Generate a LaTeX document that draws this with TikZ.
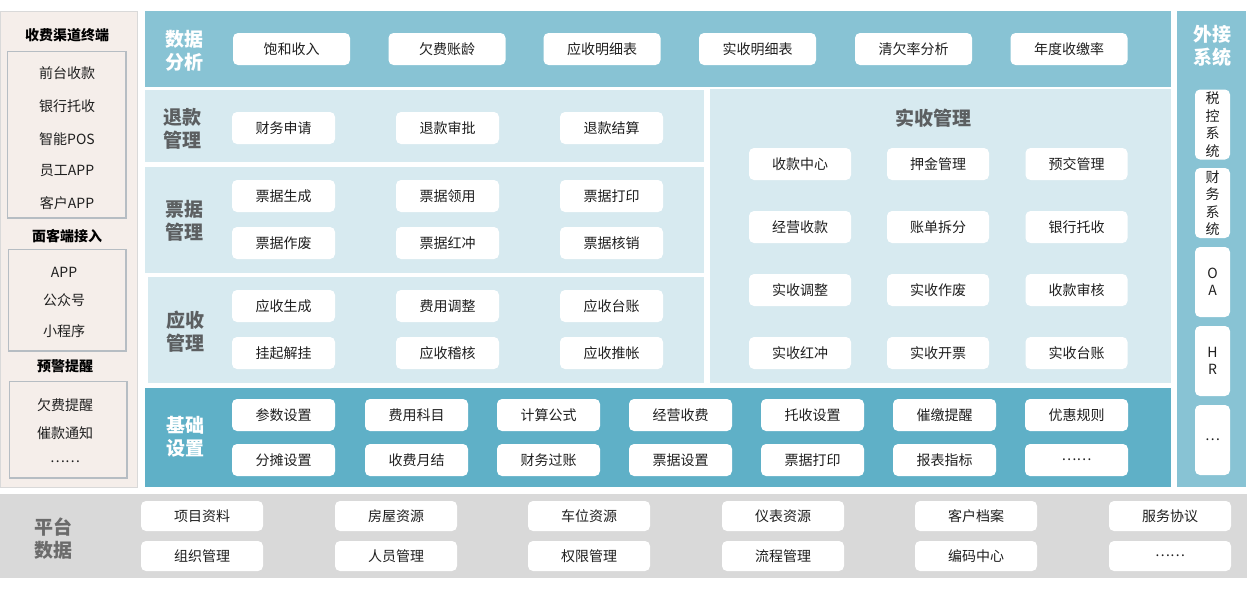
\documentclass[tikz,border=0pt]{standalone}
\usepackage{fontspec}
\setmainfont{Noto Sans CJK SC}
\definecolor{topblue}{HTML}{88C3D4}
\definecolor{darkblue}{HTML}{5FB0C7}
\definecolor{lightblue}{HTML}{D7EAF0}
\definecolor{beige}{HTML}{F5EEEA}
\definecolor{platgray}{HTML}{D9D9D9}
\definecolor{boxline}{HTML}{B6BDC3}
\definecolor{labgray}{HTML}{5C5F61}
\begin{document}
\begin{tikzpicture}[x=1pt,y=-1pt,
  btn/.style={fill=white,rounded corners=5pt,minimum height=32pt,inner sep=0pt,font=\fontsize{14}{16}\selectfont,text=black!88},
  wA/.style={btn,minimum width=117pt},
  wB/.style={btn,minimum width=103pt},
  wP/.style={btn,minimum width=122pt,minimum height=30pt},
  vbtn/.style={fill=white,rounded corners=5pt,minimum width=35pt,minimum height=70pt,inner sep=0pt,align=center,font=\fontsize{14}{17.5}\selectfont,text=black!88},
  biglab/.style={align=center,font=\fontsize{19}{23}\selectfont\bfseries,text=labgray},
  whitelab/.style={biglab,text=white},
  sidehead/.style={font=\fontsize{14}{16}\selectfont\bfseries,text=black},
  sideitem/.style={font=\fontsize{14}{16}\selectfont,text=black!88},
  sidebox/.style={draw=boxline,line width=1.6pt}
]
\useasboundingbox (0,0) rectangle (1258,589);
% ---------- left panel ----------
\path[fill=beige,draw=platgray,line width=0.8pt] (0,11) rectangle (137,487);
\path[sidebox] (7.5,51.5) rectangle (126,218);
\path[sidebox] (8.5,249.5) rectangle (126,351);
\path[sidebox] (9.5,381.5) rectangle (127,478);
\node[sidehead] (h1) at (67,35) {收费渠道终端};
\node[sideitem] (s1) at (67,73) {前台收款};
\node[sideitem] (s2) at (67,106) {银行托收};
\node[sideitem] (s3) at (67,139) {智能POS};
\node[sideitem] (s4) at (67,171) {员工APP};
\node[sideitem] (s5) at (67,203) {客户APP};
\node[sidehead] (h2) at (67,236) {面客端接入};
\node[sideitem] (s6) at (64,272) {APP};
\node[sideitem] (s7) at (64,300) {公众号};
\node[sideitem] (s8) at (64,331) {小程序};
\node[sidehead] (h3) at (65,366) {预警提醒};
\node[sideitem] (s9) at (65,405) {欠费提醒};
\node[sideitem] (s10) at (65,433) {催款通知};
\node[sideitem] (s11) at (65,462) {……};
% ---------- panels ----------
\path[fill=topblue] (145,11) rectangle (1171,87);
\path[fill=lightblue] (145,90) rectangle (704,162);
\path[fill=lightblue] (145,167) rectangle (704,273);
\path[fill=lightblue] (148,277) rectangle (704,383);
\path[fill=lightblue] (710,89) rectangle (1171,383);
\path[fill=darkblue] (145,388) rectangle (1171,487);
\path[fill=topblue] (1177,11) rectangle (1246,487);
\path[fill=platgray] (0,494) rectangle (1247,578);
% ---------- 数据分析 ----------
\node[whitelab] (lab1) at (184,51) {数据\\分析};
\node[wA] (a1) at (291.5,49) {饱和收入};
\node[wA] (a2) at (447,49) {欠费账龄};
\node[wA] (a3) at (602,49) {应收明细表};
\node[wA] (a4) at (757.5,49) {实收明细表};
\node[wA] (a5) at (913.5,49) {清欠率分析};
\node[wA] (a6) at (1069,49) {年度收缴率};
% ---------- 退款管理 ----------
\node[biglab] (lab2) at (182,129) {退款\\管理};
\node[wB] (r1) at (283.5,128) {财务申请};
\node[wB] (r2) at (447.5,128) {退款审批};
\node[wB] (r3) at (611.5,128) {退款结算};
% ---------- 票据管理 ----------
\node[biglab] (lab3) at (184,221) {票据\\管理};
\node[wB] (p1) at (283.5,196) {票据生成};
\node[wB] (p2) at (447.5,196) {票据领用};
\node[wB] (p3) at (611.5,196) {票据打印};
\node[wB] (p4) at (283.5,243) {票据作废};
\node[wB] (p5) at (447.5,243) {票据红冲};
\node[wB] (p6) at (611.5,243) {票据核销};
% ---------- 应收管理 ----------
\node[biglab] (lab4) at (185,332) {应收\\管理};
\node[wB] (y1) at (283.5,306) {应收生成};
\node[wB] (y2) at (447.5,306) {费用调整};
\node[wB] (y3) at (611.5,306) {应收台账};
\node[wB] (y4) at (283.5,353) {挂起解挂};
\node[wB] (y5) at (447.5,353) {应收稽核};
\node[wB] (y6) at (611.5,353) {应收推帐};
% ---------- 实收管理 ----------
\node[biglab] (lab5) at (933,118) {实收管理};
\node[wB,minimum width=102pt] (k1) at (800,164) {收款中心};
\node[wB,minimum width=102pt] (k2) at (938,164) {押金管理};
\node[wB,minimum width=102pt] (k3) at (1076.5,164) {预交管理};
\node[wB,minimum width=102pt] (k4) at (800,227) {经营收款};
\node[wB,minimum width=102pt] (k5) at (938,227) {账单拆分};
\node[wB,minimum width=102pt] (k6) at (1076.5,227) {银行托收};
\node[wB,minimum width=102pt] (k7) at (800,290) {实收调整};
\node[wB,minimum width=102pt] (k8) at (938,290) {实收作废};
\node[wB,minimum width=102pt] (k9) at (1076.5,290) {收款审核};
\node[wB,minimum width=102pt] (k10) at (800,353) {实收红冲};
\node[wB,minimum width=102pt] (k11) at (938,353) {实收开票};
\node[wB,minimum width=102pt] (k12) at (1076.5,353) {实收台账};
% ---------- 基础设置 ----------
\node[whitelab] (lab6) at (185,437) {基础\\设置};
\node[wB] (b1) at (283.5,415) {参数设置};
\node[wB] (b2) at (416.5,415) {费用科目};
\node[wB] (b3) at (548.5,415) {计算公式};
\node[wB] (b4) at (680.5,415) {经营收费};
\node[wB] (b5) at (812.5,415) {托收设置};
\node[wB] (b6) at (944.5,415) {催缴提醒};
\node[wB] (b7) at (1076.5,415) {优惠规则};
\node[wB] (b8) at (283.5,460) {分摊设置};
\node[wB] (b9) at (416.5,460) {收费月结};
\node[wB] (b10) at (548.5,460) {财务过账};
\node[wB] (b11) at (680.5,460) {票据设置};
\node[wB] (b12) at (812.5,460) {票据打印};
\node[wB] (b13) at (944.5,460) {报表指标};
\node[wB] (b14) at (1076.5,460) {……};
% ---------- 外接系统 ----------
\node[whitelab] (lab7) at (1212,46) {外接\\系统};
\node[vbtn] (e1) at (1212.5,124.5) {税\\控\\系\\统};
\node[vbtn] (e2) at (1212.5,203) {财\\务\\系\\统};
\node[vbtn] (e3) at (1212.5,282) {O\\A};
\node[vbtn] (e4) at (1212.5,361) {H\\R};
\node[vbtn] (e5) at (1212.5,440) {…};
% ---------- 平台数据 ----------
\node[biglab,text=black!58] (lab8) at (53,539) {平台\\数据};
\node[wP] (d1) at (202,516) {项目资料};
\node[wP] (d2) at (396,516) {房屋资源};
\node[wP] (d3) at (589,516) {车位资源};
\node[wP] (d4) at (783,516) {仪表资源};
\node[wP] (d5) at (976,516) {客户档案};
\node[wP] (d6) at (1170,516) {服务协议};
\node[wP] (d7) at (202,556) {组织管理};
\node[wP] (d8) at (396,556) {人员管理};
\node[wP] (d9) at (589,556) {权限管理};
\node[wP] (d10) at (783,556) {流程管理};
\node[wP] (d11) at (976,556) {编码中心};
\node[wP] (d12) at (1170,556) {……};
\end{tikzpicture}
\end{document}
